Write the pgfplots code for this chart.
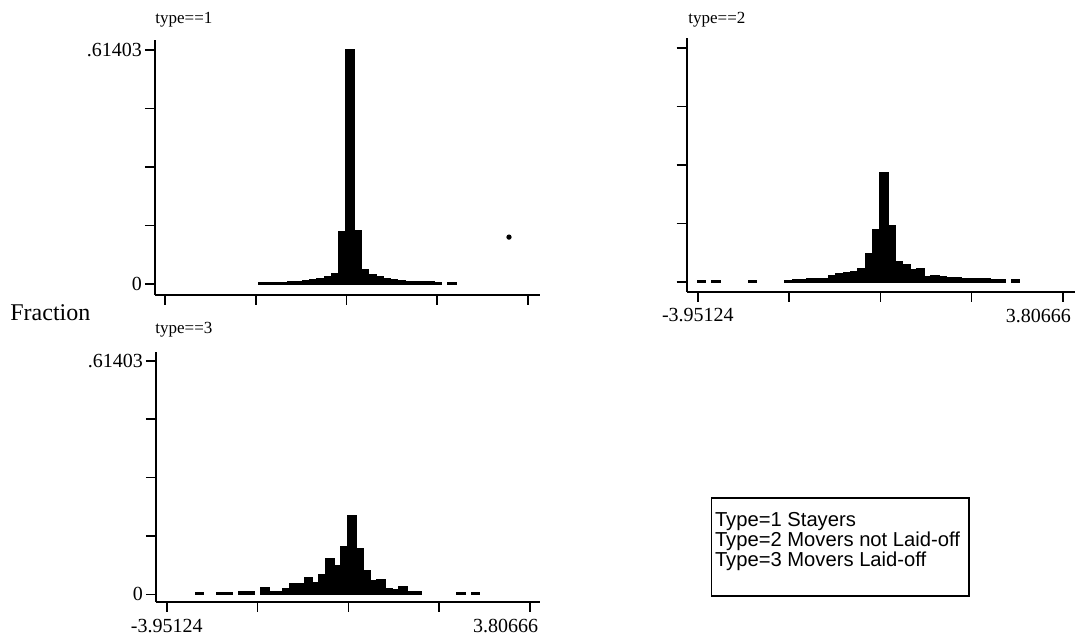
\documentclass[border=0pt]{standalone}
\usepackage{fontspec}
\setmainfont{Liberation Serif}
\newfontfamily\legendfont{Liberation Sans}
\usepackage{pgfplots}
\usepackage{pgfplotstable}
\pgfplotsset{compat=1.18}

% type==1 (bin centres, fraction)
\pgfplotstableread{
x y
-1.8566 0.002
-1.7014 0.002
-1.5463 0.003
-1.3911 0.003
-1.2360 0.004
-1.0808 0.005
-0.9257 0.007
-0.7705 0.009
-0.6153 0.013
-0.4602 0.017
-0.3050 0.025
-0.1499 0.137
0.0053 0.61403
0.1604 0.140
0.3156 0.037
0.4708 0.024
0.6259 0.017
0.7811 0.013
0.9362 0.010
1.0914 0.008
1.2466 0.006
1.4017 0.005
1.5569 0.004
1.7120 0.004
1.8672 0.003
2.1775 0.003
}\tabA

% type==2
\pgfplotstableread{
x y
-3.8737 0.003
-3.5633 0.003
-2.7876 0.003
-2.0118 0.003
-1.8566 0.004
-1.7014 0.005
-1.5463 0.006
-1.3911 0.007
-1.2360 0.008
-1.0808 0.015
-0.9257 0.020
-0.7705 0.024
-0.6153 0.026
-0.4602 0.034
-0.3050 0.074
-0.1499 0.136
0.0053 0.286
0.1604 0.146
0.3156 0.052
0.4708 0.044
0.6259 0.030
0.7811 0.034
0.9362 0.012
1.0914 0.014
1.2466 0.013
1.4017 0.010
1.5569 0.009
1.7120 0.008
1.8672 0.008
2.0223 0.007
2.1775 0.006
2.3327 0.005
2.4878 0.005
2.7981 0.004
}\tabB

% type==3
\pgfplotstableread{
x y
-3.2530 0.004
-2.7876 0.004
-2.6324 0.004
-2.3221 0.005
-2.1669 0.005
-1.8566 0.016
-1.7014 0.006
-1.5463 0.007
-1.3911 0.014
-1.2360 0.026
-1.0808 0.028
-0.9257 0.042
-0.7705 0.030
-0.6153 0.052
-0.4602 0.092
-0.3050 0.074
-0.1499 0.123
0.0053 0.207
0.1604 0.118
0.3156 0.061
0.4708 0.035
0.6259 0.037
0.7811 0.013
0.9362 0.010
1.0914 0.019
1.2466 0.007
1.4017 0.006
2.3327 0.004
2.6430 0.004
}\tabC

\pgfplotsset{
  histax/.style={
    scale only axis,
    anchor=south west,
    axis x line*=bottom,
    axis y line*=left,
    axis line style={line width=0.9pt},
    tick align=outside,
    major tick length=5pt,
    tick style={line width=0.8pt, black},
    xtick={-3.95124,-2.011765,-0.07229,1.867185,3.80666},
    ytick={0,0.1535075,0.307015,0.4605225,0.61403},
    tick label style={font=\fontsize{10}{11}\selectfont},
    yticklabel style={xshift=2pt},
    /pgf/number format/assume math mode=true,
    clip=false,
  },
  histbar/.style={ybar, bar width=0.155158, bar shift=0pt, fill=black, draw=black, line width=1.1pt},
}

\begin{document}
\begin{tikzpicture}
\useasboundingbox (0,0) rectangle (539pt,318pt);

% type==1
\begin{axis}[histax,
  at={(77.5pt,170.5pt)}, width=192.5pt, height=127.5pt,
  xmin=-4.165, xmax=4.063, ymin=-0.0289, ymax=0.6403,
  xticklabels={}, yticklabels={0,,,,.61403}]
\addplot[histbar] table[x=x,y=y] {\tabA};
\addplot[only marks, mark=*, mark size=1.1pt, black] coordinates {(3.40,0.123)};
\end{axis}

% type==2
\begin{axis}[histax,
  at={(343.3pt,172.15pt)}, width=194.15pt, height=126.85pt,
  xmin=-4.191, xmax=4.062, ymin=-0.026, ymax=0.641,
  yticklabels={}, xticklabels={-3.95124,,,,{\makebox[0pt][r]{3.80666\kern-4pt}}}]
\addplot[histbar] table[x=x,y=y] {\tabB};
\end{axis}

% type==3
\begin{axis}[histax,
  at={(78pt,17pt)}, width=192pt, height=125.15pt,
  xmin=-4.18, xmax=4.02, ymin=-0.020, ymax=0.638,
  yticklabels={0,,,,.61403}, xticklabels={-3.95124,,,,{\makebox[0pt][r]{3.80666\kern-4pt}}}]
\addplot[histbar] table[x=x,y=y] {\tabC};
\end{axis}

\node[anchor=west, inner sep=0pt, font=\fontsize{8.5}{10}\selectfont] at (77.5pt,308pt) {type==1};
\node[anchor=west, inner sep=0pt, font=\fontsize{8.5}{10}\selectfont] at (344pt,308pt) {type==2};
\node[anchor=west, inner sep=0pt, font=\fontsize{8.5}{10}\selectfont] at (77.5pt,153pt) {type==3};
\node[anchor=west, inner sep=0pt, font=\fontsize{12}{14}\selectfont] at (5pt,161.5pt) {Fraction};

\draw[line width=0.6pt] (355.85pt,20pt) rectangle (484.5pt,69pt);
\node[anchor=north west, inner sep=0pt, align=left, font=\legendfont\fontsize{10.1}{9.9}\selectfont] at (357.3pt,62pt) {Type=1 Stayers\\Type=2 Movers not Laid-off\\Type=3 Movers Laid-off};
\end{tikzpicture}
\end{document}
